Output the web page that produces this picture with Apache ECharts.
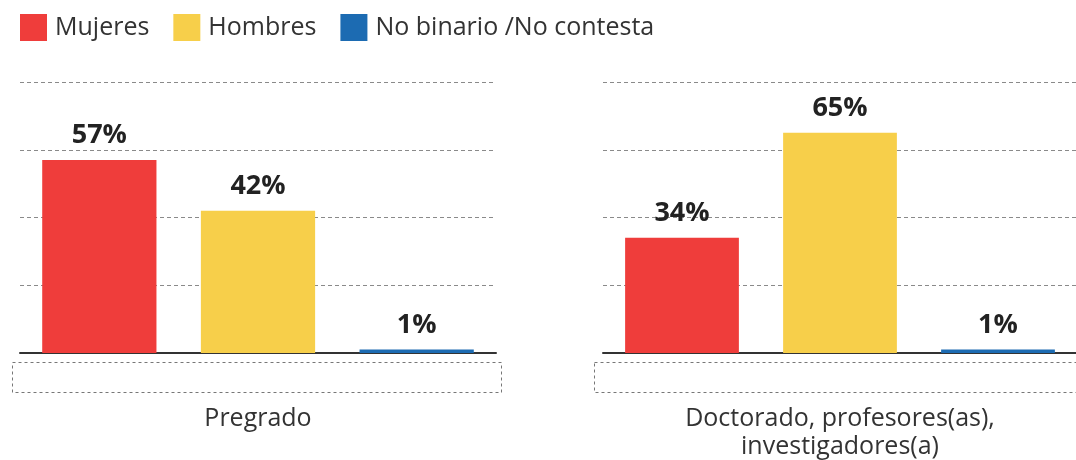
<!DOCTYPE html>
<html>
<head>
<meta charset="utf-8">
<script src="https://cdn.jsdelivr.net/npm/echarts@6/dist/echarts.min.js"></script>
<style>
  html, body { margin: 0; padding: 0; background: #fff; }
  #chart { width: 1076px; height: 460px; }
</style>
</head>
<body>
<div id="chart"></div>
<script>
// datos
var panels = ['Pregrado', 'Doctorado, profesores(as),\ninvestigadores(a)'];
var groups = ['Mujeres', 'Hombres', 'No binario /No contesta'];
var mujeres = [57, 34];
var hombres = [42, 65];
var noBinario = [1, 1];
var yMax = 80;
var yStep = 20;

var colors = ['#EF3D3B', '#F7CF4A', '#1C6BB2'];
var values = [mujeres, hombres, noBinario];

var myChart = echarts.init(document.getElementById('chart'));

var grids = [
  { left: 20, top: 82, width: 476, height: 271, outerBoundsMode: 'none' },
  { left: 603, top: 82, width: 474, height: 271, outerBoundsMode: 'none' }
];

var xAxes = [];
var yAxes = [];
var series = [];

panels.forEach(function (p, gi) {
  xAxes.push({
    type: 'category',
    gridIndex: gi,
    data: groups,
    name: p,
    nameLocation: 'middle',
    nameGap: 52,
    nameTextStyle: { fontFamily: 'Open Sans', fontSize: 25, color: '#333', lineHeight: 28 },
    axisLine: { lineStyle: { color: '#333', width: 2 } },
    axisTick: { show: false },
    axisLabel: { show: false }
  });
  yAxes.push({
    type: 'value',
    gridIndex: gi,
    min: 0,
    max: yMax,
    interval: yStep,
    axisLabel: { show: false },
    axisLine: { show: false },
    axisTick: { show: false },
    splitLine: { lineStyle: { color: '#8a8a8a', type: [4, 3], width: 1 } }
  });
  groups.forEach(function (g, si) {
    var d = groups.map(function (_, k) { return k === si ? values[si][gi] : '-'; });
    series.push({
      name: g,
      type: 'bar',
      xAxisIndex: gi,
      yAxisIndex: gi,
      stack: 'p' + gi,
      barWidth: '72%',
      itemStyle: { color: colors[si] },
      label: {
        show: true,
        position: 'top',
        distance: 11,
        formatter: '{c}%',
        fontFamily: 'Open Sans',
        fontWeight: 'bold',
        fontSize: 27,
        color: '#222'
      },
      data: d
    });
  });
});

var option = {
  animation: false,
  textStyle: { fontFamily: 'Open Sans' },
  legend: {
    left: 20,
    top: 14,
    padding: 0,
    icon: 'rect',
    itemWidth: 27,
    itemHeight: 27,
    itemGap: 24,
    textStyle: { fontSize: 25, color: '#333', padding: [0, 0, 0, 3] },
    data: groups
  },
  grid: grids,
  xAxis: xAxes,
  yAxis: yAxes,
  series: series,
  graphic: [
    {
      type: 'rect',
      shape: { x: 12.5, y: 362.5, width: 489, height: 30 },
      style: { fill: 'none', stroke: '#777', lineWidth: 1, lineDash: [3, 3] }
    },
    {
      type: 'rect',
      shape: { x: 594.5, y: 362.5, width: 500, height: 30 },
      style: { fill: 'none', stroke: '#777', lineWidth: 1, lineDash: [3, 3] }
    }
  ]
};

myChart.setOption(option);
window.addEventListener('resize', function () { myChart.resize(); });
</script>
</body>
</html>
